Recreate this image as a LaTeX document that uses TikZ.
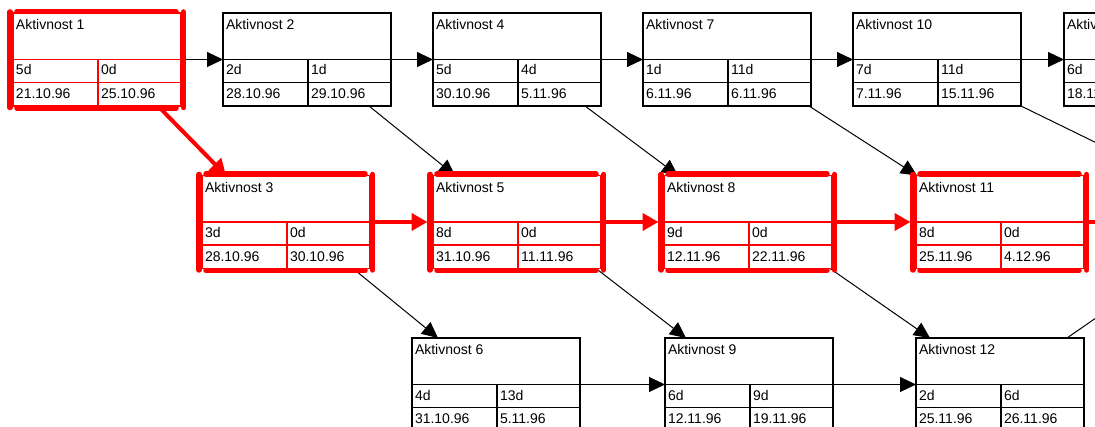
\documentclass[tikz,border=0pt]{standalone}
\usepackage{fontspec}
\setmainfont{Liberation Sans}
\usetikzlibrary{arrows.meta,calc}
\pgfdeclarelayer{bg}
\pgfsetlayers{bg,main}
\definecolor{crit}{RGB}{255,0,0}
\tikzset{
  boxblack/.style={draw=black, fill=white, line width=1.8pt, minimum width=168pt, minimum height=93pt, inner sep=0pt, outer sep=0pt, anchor=north west},
  boxred/.style={draw=crit, fill=white, line width=1.8pt, minimum width=168pt, minimum height=93pt, inner sep=0pt, outer sep=0pt, anchor=north west},
  innerblack/.style={draw=black, line width=1.8pt},
  innerred/.style={draw=crit, line width=1.8pt},
  critframe/.style={draw=crit, line width=5.5pt, line cap=round},
  lbl/.style={anchor=base west, inner sep=0pt, outer sep=0pt, font=\fontsize{14}{16}\selectfont},
  conn/.style={draw=black, line width=1pt, -{Triangle[length=16pt,width=15pt]}},
  critconn/.style={draw=crit, line width=4pt, -{Triangle[length=16pt,width=17pt]}},
  plainconn/.style={draw=black, line width=1pt},
}
\newcommand\actbox[9]{%
  \begin{scope}[shift={(#2,#3)}]
    \node[box#4] (#1) at (0,0) {};
    \draw[inner#4] (0,46.5) -- (168,46.5) (0,69.5) -- (168,69.5) (85,46.5) -- (85,93);
    \def\tmpkind{#4}\def\redkind{red}%
    \ifx\tmpkind\redkind
      \draw[critframe] (-3,-1) -- (-3,94.5);
      \draw[critframe] (170.5,-1) -- (170.5,94.5);
      \draw[critframe] (4,-1.5) -- (163,-1.5);
      \draw[critframe] (4,95) -- (163,95);
    \fi
    \coordinate (#1-in) at (0,46.5);
    \coordinate (#1-out) at (168,46.5);
    \node[lbl] (#1-t) at (3,17) {#5};
    \node[lbl] (#1-a) at (3,62) {#6};
    \node[lbl] (#1-b) at (88,62) {#7};
    \node[lbl] (#1-c) at (3,86) {#8};
    \node[lbl] (#1-d) at (88,86) {#9};
  \end{scope}}
\begin{document}
\begin{tikzpicture}[x=1pt,y=-1pt]
  \useasboundingbox (0,0) rectangle (1095,427);
  \clip (0,0) rectangle (1095,427);
  % row 1
  \actbox{a1}{13}{13}{red}{Aktivnost 1}{5d}{0d}{21.10.96}{25.10.96}
  \actbox{a2}{223}{13}{black}{Aktivnost 2}{2d}{1d}{28.10.96}{29.10.96}
  \actbox{a4}{433}{13}{black}{Aktivnost 4}{5d}{4d}{30.10.96}{5.11.96}
  \actbox{a7}{643}{13}{black}{Aktivnost 7}{1d}{11d}{6.11.96}{6.11.96}
  \actbox{a10}{853}{13}{black}{Aktivnost 10}{7d}{11d}{7.11.96}{15.11.96}
  \actbox{a13}{1064}{13}{black}{Aktivnost 13}{6d}{}{18.11.96}{}
  % row 2
  \actbox{a3}{202}{175.5}{red}{Aktivnost 3}{3d}{0d}{28.10.96}{30.10.96}
  \actbox{a5}{433}{175.5}{red}{Aktivnost 5}{8d}{0d}{31.10.96}{11.11.96}
  \actbox{a8}{664}{175.5}{red}{Aktivnost 8}{9d}{0d}{12.11.96}{22.11.96}
  \actbox{a11}{916}{175.5}{red}{Aktivnost 11}{8d}{0d}{25.11.96}{4.12.96}
  % row 3
  \actbox{a6}{412}{338}{black}{Aktivnost 6}{4d}{13d}{31.10.96}{5.11.96}
  \actbox{a9}{665}{338}{black}{Aktivnost 9}{6d}{9d}{12.11.96}{19.11.96}
  \actbox{a12}{916}{338}{black}{Aktivnost 12}{2d}{6d}{25.11.96}{26.11.96}
  \begin{pgfonlayer}{bg}
    \clip (0,0) rectangle (1095,427);
    % horizontal links
    \draw[conn] (a1-out) -- (a2-in);
    \draw[conn] (a2-out) -- (a4-in);
    \draw[conn] (a4-out) -- (a7-in);
    \draw[conn] (a7-out) -- (a10-in);
    \draw[conn] (a10-out) -- (a13-in);
    \draw[critconn] (a3-out) -- ($(a5-in)+(-5.5,0)$);
    \draw[critconn] (a5-out) -- ($(a8-in)+(-5.5,0)$);
    \draw[critconn] (a8-out) -- ($(a11-in)+(-5.5,0)$);
    \coordinate (e11) at ($(a11-out)+(40,0)$);
    \draw[crit, line width=4pt] (a11-out) -- (e11);
    \draw[conn] (a6-out) -- (a9-in);
    \draw[conn] (a9-out) -- (a12-in);
    % diagonal links
    \draw[critconn] ($(a1.south west)+(145,0)$) -- ($(a3.north west)+(24,0)$);
    \draw[conn] ($(a2.south west)+(146,0)$) -- ($(a5.north west)+(22,0)$);
    \draw[conn] ($(a4.south west)+(152,0)$) -- ($(a8.north west)+(14,0)$);
    \draw[conn] ($(a7.south west)+(166,0)$) -- ($(a11.north west)+(1,0)$);
    \coordinate (e10) at ($(a10.south east)+(90,44)$);
    \draw[plainconn] (a10.south east) -- (e10);
    \draw[conn] ($(a3.south west)+(151,0)$) -- ($(a6.north west)+(26,0)$);
    \draw[conn] ($(a5.south west)+(163,0)$) -- ($(a9.north west)+(21,0)$);
    \draw[conn] ($(a8.south west)+(166,0)$) -- ($(a12.north west)+(14,0)$);
    \coordinate (e12) at ($(a12.north west)+(201,-34.6)$);
    \draw[plainconn] ($(a12.north west)+(151,0)$) -- (e12);
  \end{pgfonlayer}
\end{tikzpicture}
\end{document}
